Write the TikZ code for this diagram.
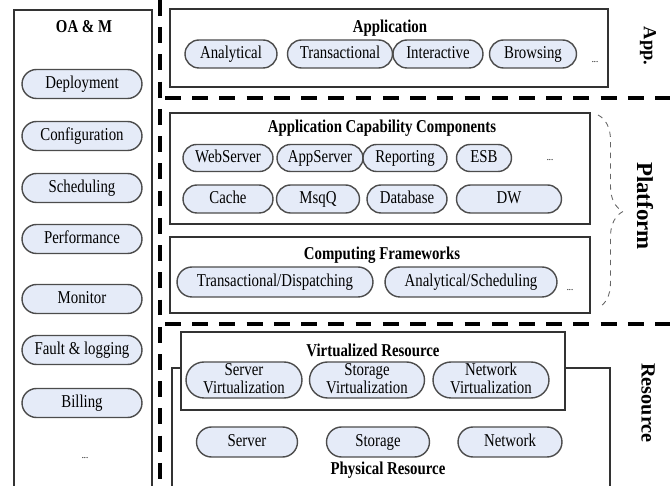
\documentclass[tikz,border=0pt]{standalone}
\usepackage{fontspec}
\setmainfont{Liberation Serif}[FakeStretch=0.82]
\newfontfamily\sidefont{Liberation Serif}
\usetikzlibrary{shapes.misc,decorations.pathreplacing}
\definecolor{pillfill}{RGB}{229,235,248}
\begin{document}
\begin{tikzpicture}[x=0.02cm,y=-0.02cm,
  pillbase/.style={rounded rectangle,draw=black!70,line width=0.8pt,fill=pillfill,inner sep=0pt,minimum height=0.58cm,align=center,font=\fontsize{10.3}{10.2}\selectfont},
  pill/.style={pillbase,text height=7pt,text depth=2.2pt},
  pilltwo/.style={pillbase,text height=17.6pt,text depth=2.2pt},
  title/.style={inner sep=0pt,font=\fontsize{10.3}{12}\selectfont\bfseries},
  panel/.style={draw=black!80,line width=0.6pt},
  layer/.style={line width=1.8pt,dash pattern=on 9pt off 6.5pt},
  side/.style={rotate=-90,inner sep=0pt},
  more/.style={inner sep=0pt,font=\fontsize{6}{7}\selectfont}]
  \useasboundingbox (0,0) rectangle (670,486);
  \draw[panel] (14,490) -- (14,10) -- (152,10) -- (152,490);
  \node[title] (oam) at (84,27) {OA \& M};
  \node[pill,minimum width=2.4cm] (deploy) at (82,84) {Deployment};
  \node[pill,minimum width=2.4cm] (config) at (82,136) {Configuration};
  \node[pill,minimum width=2.4cm] (sched) at (82,188) {Scheduling};
  \node[pill,minimum width=2.4cm] (perf) at (82,239) {Performance};
  \node[pill,minimum width=2.4cm] (monitor) at (82,299) {Monitor};
  \node[pill,minimum width=2.4cm] (fault) at (82,350) {Fault \& logging};
  \node[pill,minimum width=2.4cm] (billing) at (82,403) {Billing};
  \node[more] (oamdots) at (85,458) {...};
  \draw[layer] (160,0) -- (160,486);
  \draw[layer] (165,98) -- (670,98);
  \draw[layer] (165,324) -- (670,324);
  \draw[panel] (170,9) rectangle (608,87);
  \node[title] (app) at (390,28) {Application};
  \node[pill,minimum width=1.84cm,minimum height=0.56cm] (analytical) at (231,54) {Analytical};
  \node[pill,minimum width=2.1cm,minimum height=0.56cm] (transact) at (340,54) {Transactional};
  \node[pill,minimum width=1.8cm,minimum height=0.56cm] (interact) at (438,54) {Interactive};
  \node[pill,minimum width=1.74cm,minimum height=0.56cm] (browse) at (533,54) {Browsing};
  \node[more] (appdots) at (595,62) {...};
  \node[side,font=\sidefont\fontsize{10.5}{12}\selectfont\bfseries] (applbl) at (648,46) {App.};
  \draw[panel] (170,113) rectangle (590,224);
  \node[title] (acc) at (382,128) {Application Capability Components};
  \node[pill,minimum width=1.8cm,minimum height=0.54cm] (websrv) at (228,158) {WebServer};
  \node[pill,minimum width=1.72cm,minimum height=0.54cm] (appsrv) at (320,158) {AppServer};
  \node[pill,minimum width=1.68cm,minimum height=0.54cm] (report) at (405,158) {Reporting};
  \node[pill,minimum width=1.1cm,minimum height=0.54cm] (esb) at (484,158) {ESB};
  \node[more] (accdots) at (550,160) {...};
  \node[pill,minimum width=1.8cm,minimum height=0.56cm] (cache) at (228,199) {Cache};
  \node[pill,minimum width=1.66cm,minimum height=0.56cm] (msgq) at (318,199) {MsqQ};
  \node[pill,minimum width=1.6cm,minimum height=0.56cm] (dbase) at (407,199) {Database};
  \node[pill,minimum width=2.1cm,minimum height=0.56cm] (dw) at (509,199) {DW};
  \draw[panel] (170,237) rectangle (590,313);
  \node[title] (cf) at (382,255) {Computing Frameworks};
  \node[pill,minimum width=3.92cm,minimum height=0.6cm] (tdisp) at (275,282) {Transactional/Dispatching};
  \node[pill,minimum width=3.44cm,minimum height=0.6cm] (asched) at (471,282) {Analytical/Scheduling};
  \node[more] (cfdots) at (570,290) {...};
  \coordinate (brtop) at (598,115);
  \coordinate (brbot) at (598,308);
  \draw[decorate,decoration={brace,amplitude=0.5cm},dashed,black!60,line width=0.5pt] (brtop) -- (brbot);
  \node[side,font=\sidefont\fontsize{13}{15}\selectfont\bfseries] (platlbl) at (645,206) {Platform};
  \draw[panel] (172,490) -- (172,368) -- (610,368) -- (610,490);
  \draw[panel,fill=white] (181,332) rectangle (565,410);
  \node[title] (vr) at (373,350) {Virtualized Resource};
  \node[pilltwo,minimum width=2.32cm,minimum height=0.72cm] (srvvirt) at (244,380) {Server\\Virtualization};
  \node[pilltwo,minimum width=2.3cm,minimum height=0.72cm] (stovirt) at (367,380) {Storage\\Virtualization};
  \node[pilltwo,minimum width=2.32cm,minimum height=0.72cm] (netvirt) at (491,380) {Network\\Virtualization};
  \node[pill,minimum width=2.02cm,minimum height=0.6cm] (server) at (247,442) {Server};
  \node[pill,minimum width=2.06cm,minimum height=0.6cm] (storage) at (378,442) {Storage};
  \node[pill,minimum width=2.08cm,minimum height=0.6cm] (network) at (510,442) {Network};
  \node[title] (pr) at (388,470) {Physical Resource};
  \node[side,font=\sidefont\fontsize{11.5}{13}\selectfont\bfseries] (reslbl) at (648,403) {Resource};
\end{tikzpicture}
\end{document}
